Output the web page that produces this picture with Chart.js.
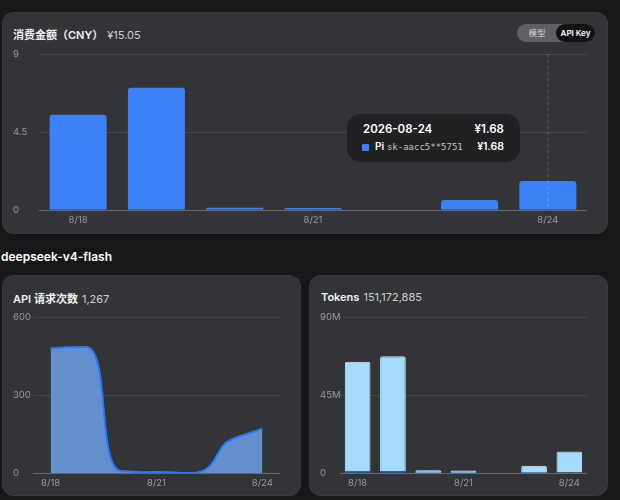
<!DOCTYPE html>
<html>
<head>
<meta charset="utf-8">
<script src="https://cdn.jsdelivr.net/npm/chart.js@4/dist/chart.umd.min.js"></script>
<style>
  html, body { margin: 0; padding: 0; background: #161719; width: 620px; height: 500px; overflow: hidden; }
  body { position: relative; font-family: Inter, "Noto Sans CJK SC", sans-serif; color: #fff; }
  .card { position: absolute; background: #333437; border-radius: 12px; border: 1px solid rgba(255,255,255,0.04); box-sizing: border-box; }
  .title { position: absolute; font-size: 11px; white-space: nowrap; }
  .title b { font-weight: 600; color: #f2f2f2; }
  .title span { color: #cfcfcf; margin-left: 4px; }
  .cv { position: absolute; }
  .section { position: absolute; left: 1px; top: 249px; font-size: 12px; font-weight: 600; }
  .toggle { position: absolute; left: 517px; top: 24px; width: 78px; height: 18px; border-radius: 9px; background: #5f6063; }
  .toggle .a { position: absolute; left: 0; width: 40px; top: 0; height: 18px; line-height: 18px; text-align: center; font-size: 8.5px; color: #d8d8d8; }
  .toggle .b { position: absolute; right: 0; width: 39px; top: 0; height: 18px; line-height: 18px; text-align: center; font-size: 8px; font-weight: 600; color: #fff; background: #111214; border-radius: 9px; }
  .tip { position: absolute; left: 347px; top: 114px; width: 173px; height: 48px; border-radius: 14px; background: #202123; }
  .tip .t1 { position: absolute; left: 16px; top: 8px; font-size: 11.5px; font-weight: 600; }
  .tip .t2 { position: absolute; right: 16px; top: 8px; font-size: 11.5px; font-weight: 600; }
  .tip .sq { position: absolute; left: 15px; top: 30px; width: 7px; height: 7px; background: #3b82f6; border-radius: 1px; }
  .tip .k { position: absolute; left: 28px; top: 26px; font-size: 10px; white-space: nowrap; }
  .tip .k b { font-weight: 600; }
  .tip .k span { font-family: "DejaVu Sans Mono", monospace; color: #c4c4c4; font-size: 9px; }
  .tip .v { position: absolute; right: 16px; top: 26px; font-size: 10.5px; font-weight: 600; }
</style>
</head>
<body>
<div class="card" style="left:2px;top:12px;width:606px;height:222px;"></div>
<div class="title" style="left:13px;top:26px;"><b>消费金额（CNY）</b><span>¥15.05</span></div>
<div class="toggle"><div class="a">模型</div><div class="b">API Key</div></div>
<canvas id="cost" class="cv" style="left:13px;top:48px;width:574px;height:180px;"></canvas>

<div class="section">deepseek-v4-flash</div>

<div class="card" style="left:2px;top:275px;width:299px;height:221px;"></div>
<div class="title" style="left:13px;top:290px;"><b>API 请求次数</b><span>1,267</span></div>
<canvas id="req" class="cv" style="left:13px;top:311px;width:267px;height:180px;"></canvas>

<div class="card" style="left:309px;top:275px;width:299px;height:221px;"></div>
<div class="title" style="left:321px;top:290px;"><b>Tokens</b><span>151,172,885</span></div>
<canvas id="tok" class="cv" style="left:320px;top:311px;width:267px;height:180px;"></canvas>

<div class="tip">
  <div class="t1">2026-08-24</div><div class="t2">¥1.68</div>
  <div class="sq"></div>
  <div class="k"><b>Pi</b> <span>sk-aacc5**5751</span></div><div class="v">¥1.68</div>
</div>

<script>
// data
var days = ['8/18', '8/19', '8/20', '8/21', '8/22', '8/23', '8/24'];
var shownTicks = ['8/18', '8/21', '8/24'];
var costCny = [5.5, 7.05, 0.13, 0.12, 0, 0.57, 1.68];
var requests = [480, 485, 8, 4, 0, 120, 170];
var tokensOutput = [800000, 1000000, 30000, 30000, 0, 100000, 300000];
var tokensInput = [63400000, 66400000, 1570000, 1370000, 0, 4100000, 12072885];
var costTicks = [0, 4.5, 9];
var reqTicks = [0, 300, 600];
var tokTicks = [0, 45000000, 90000000];

var gridColor = 'rgba(255,255,255,0.09)';
var tickColor = '#9a9b9e';
var font = { family: 'Inter, "Noto Sans CJK SC", sans-serif', size: 9.5 };

function xAxis(offset) {
    return {
        offset: offset,
        grid: { display: false, drawTicks: false },
        border: { color: 'rgba(255,255,255,0.2)' },
        ticks: {
            autoSkip: false, maxRotation: 0, padding: 4, color: tickColor, font: font,
            callback: function (v, i) { return shownTicks.indexOf(days[i]) >= 0 ? days[i] : ''; }
        },
        afterFit: function (s) { s.height = 18; }
    };
}

function yAxis(max, ticks, width, fmt) {
    return {
        min: 0, max: max,
        afterBuildTicks: function (s) { s.ticks = ticks.map(function (v) { return { value: v }; }); },
        grid: { color: gridColor, drawTicks: false },
        border: { display: false },
        ticks: { color: tickColor, font: font, crossAlign: 'far', padding: 0, callback: fmt },
        afterFit: function (s) { s.width = width; }
    };
}

var hoverLine = {
    id: 'hoverLine',
    afterDatasetsDraw: function (chart) {
        var x = chart.scales.x.getPixelForValue(6);
        var ctx = chart.ctx, a = chart.chartArea;
        ctx.save();
        ctx.strokeStyle = 'rgba(255,255,255,0.22)';
        ctx.lineWidth = 1;
        ctx.setLineDash([3, 3]);
        ctx.beginPath();
        ctx.moveTo(x, a.top);
        ctx.lineTo(x, a.bottom);
        ctx.stroke();
        ctx.restore();
    }
};

// longer, flatter handles where the monotone curve is nearly level
var sharpCurve = {
    id: 'sharpCurve',
    beforeDatasetsDraw: function (chart) {
        var meta = chart.getDatasetMeta(0);
        meta.dataset.updateControlPoints(chart.chartArea, 'x');
        var pts = meta.data;
        pts.forEach(function (p, i) {
            var dx, s;
            if (i > 0 && p.x !== p.cp1x) {
                dx = p.x - pts[i - 1].x;
                s = (p.y - p.cp1y) / (p.x - p.cp1x);
                if (Math.abs(s) < 0.4) { p.cp1x = p.x - 0.7 * dx; p.cp1y = p.y - s * 0.7 * dx; }
            }
            if (i < pts.length - 1 && p.x !== p.cp2x) {
                dx = pts[i + 1].x - p.x;
                s = (p.cp2y - p.y) / (p.cp2x - p.x);
                if (Math.abs(s) < 0.4) { p.cp2x = p.x + 0.7 * dx; p.cp2y = p.y + s * 0.7 * dx; }
            }
        });
    }
};

var common = {
    responsive: false,
    animation: false,
    plugins: { legend: { display: false }, tooltip: { enabled: false } },
    layout: { padding: { top: 6, right: 0, left: 0, bottom: 0 } }
};

function makeCanvas(id) {
    var c = document.getElementById(id);
    var r = window.devicePixelRatio || 1;
    c.width = parseFloat(c.style.width) * r;
    c.height = parseFloat(c.style.height) * r;
    return c;
}

new Chart(makeCanvas('cost'), {
    type: 'bar',
    data: {
        labels: days,
        datasets: [{
            data: costCny,
            backgroundColor: '#3b82f6',
            borderRadius: 3,
            borderSkipped: 'start',
            categoryPercentage: 0.8,
            barPercentage: 0.91
        }]
    },
    options: Object.assign({}, common, {
        scales: {
            x: xAxis(true),
            y: yAxis(9, costTicks, 26, function (v) { return v; })
        }
    }),
    plugins: [hoverLine]
});

new Chart(makeCanvas('req'), {
    type: 'line',
    data: {
        labels: days,
        datasets: [{
            data: requests,
            borderColor: '#1f7cff',
            borderWidth: 2,
            backgroundColor: 'rgba(110,160,230,0.85)',
            fill: 'origin',
            pointRadius: 0,
            cubicInterpolationMode: 'monotone'
        }]
    },
    options: Object.assign({}, common, {
        scales: {
            x: xAxis(true),
            y: yAxis(600, reqTicks, 20, function (v) { return v; })
        }
    }),
    plugins: [sharpCurve]
});

new Chart(makeCanvas('tok'), {
    type: 'bar',
    data: {
        labels: days,
        datasets: [{
            data: tokensOutput,
            backgroundColor: '#1f6fe5',
            categoryPercentage: 0.8,
            barPercentage: 0.91
        }, {
            data: tokensInput,
            backgroundColor: '#a5dbff',
            borderColor: '#cdecff',
            borderWidth: 1,
            borderRadius: 2,
            borderSkipped: 'start',
            categoryPercentage: 0.8,
            barPercentage: 0.91
        }]
    },
    options: Object.assign({}, common, {
        scales: {
            x: Object.assign(xAxis(true), { stacked: true }),
            y: Object.assign(yAxis(90000000, tokTicks, 20, function (v) { return v === 0 ? '0' : (v / 1000000) + 'M'; }), { stacked: true })
        }
    })
});
</script>
</body>
</html>
